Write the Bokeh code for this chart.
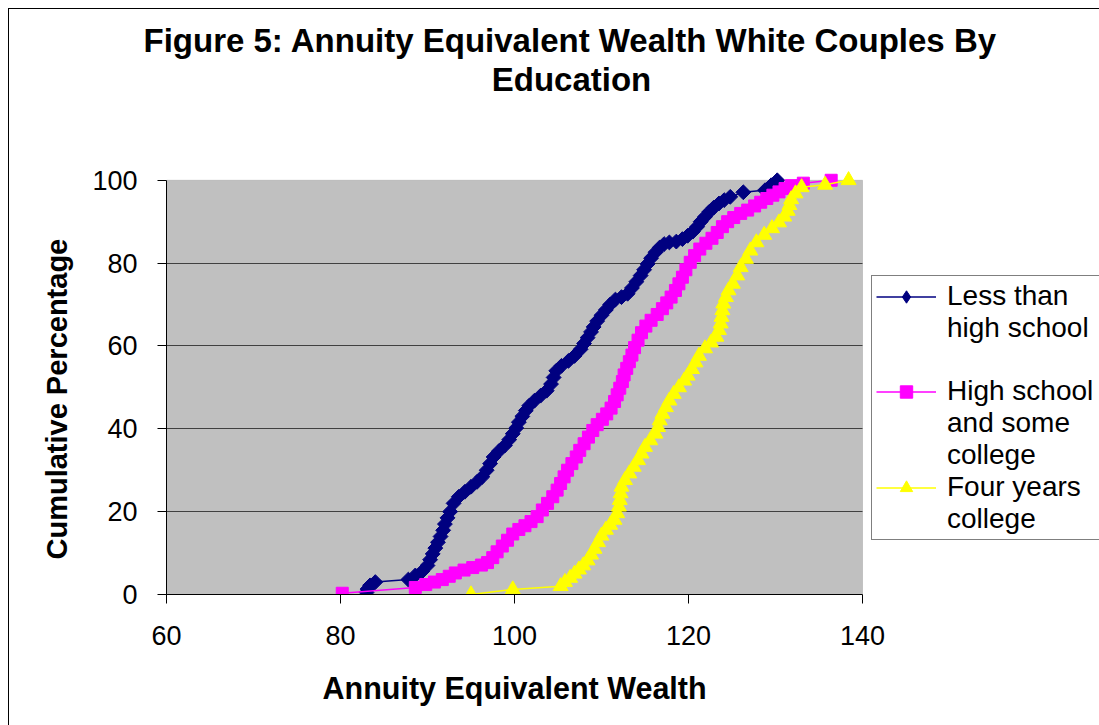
import numpy as np
from bokeh.plotting import figure
from bokeh.models import Range1d, FixedTicker, BoxAnnotation, Legend, LegendItem, Title, Label
from bokeh.core.properties import value
from bokeh.embed import file_html
from bokeh.resources import INLINE

FONT = "Liberation Sans"

title_lines = ["Figure 5: Annuity Equivalent Wealth White Couples By", "Education"]
x_title = "Annuity Equivalent Wealth"
y_title = "Cumulative Percentage"
x_ticks = [60, 80, 100, 120, 140]
y_ticks = [0, 20, 40, 60, 80, 100]

# Series 1: Less than high school
less_hs_wealth = [83.0, 83.1, 83.4, 84.0, 87.8, 88.6, 89.4, 90.0, 90.3, 90.6, 90.9, 91.2, 91.5, 91.8,
                  92.0, 92.3, 92.6, 93.0, 93.6, 94.3, 95.0, 95.7, 96.3, 96.8, 97.2, 97.6, 98.2, 98.9,
                  99.4, 99.8, 100.2, 100.5, 100.9, 101.3, 101.7, 102.3, 103.0, 103.7, 104.2, 104.5,
                  104.8, 105.4, 106.2, 106.9, 107.6, 108.0, 108.4, 108.8, 109.1, 109.5, 110.0, 110.5,
                  111.0, 111.6, 112.3, 113.0, 113.5, 114.0, 114.5, 114.9, 115.3, 115.7, 116.2, 116.7,
                  117.2, 117.8, 118.6, 119.3, 119.9, 120.5, 121.0, 121.4, 121.9, 122.4, 122.9, 123.5,
                  124.1, 124.8, 126.3, 128.8, 129.5, 130.2]
less_hs_pct = [0.5, 1.3, 2.2, 3.0, 3.6, 4.6, 5.6, 7.0, 8.4, 9.8, 11.2, 12.6, 14.0, 15.5,
               17.0, 18.5, 20.0, 22.0, 23.6, 24.8, 26.0, 27.2, 28.4, 30.0, 31.6, 33.2, 34.6, 36.0,
               37.4, 38.8, 40.2, 41.6, 43.0, 44.4, 45.6, 46.8, 48.0, 49.2, 50.8, 52.4,
               54.0, 55.2, 56.4, 57.6, 59.2, 60.6, 62.0, 63.4, 64.6, 66.0, 67.4, 68.7,
               70.0, 71.2, 71.8, 72.6, 74.0, 75.5, 77.0, 78.4, 79.8, 81.2, 82.6, 83.8,
               84.6, 85.0, 85.2, 85.8, 86.6, 87.6, 88.8, 90.0, 91.2, 92.4, 93.4, 94.4,
               95.2, 96.0, 97.1, 97.6, 98.8, 100.0]

# Series 2: High school and some college
hs_wealth = [80.2, 88.6, 89.8, 90.8, 91.7, 92.5, 93.2, 94.2, 95.2, 96.2, 96.9, 97.5, 98.0, 98.6,
             99.2, 99.8, 100.5, 101.2, 101.9, 102.6, 103.2, 103.8, 104.4, 104.9, 105.3, 105.7,
             106.1, 106.6, 107.1, 107.5, 108.0, 108.5, 109.0, 109.5, 110.1, 110.6, 111.1, 111.5,
             111.8, 112.1, 112.4, 112.6, 112.9, 113.2, 113.5, 113.8, 114.2, 114.6, 115.1, 115.7,
             116.4, 117.0, 117.5, 118.0, 118.5, 118.9, 119.3, 119.7, 120.2, 120.7, 121.3, 122.0,
             122.7, 123.3, 123.9, 124.5, 125.2, 126.0, 126.8, 127.6, 128.3, 129.0, 129.7, 130.4,
             131.1, 131.8, 133.2, 136.4]
hs_pct = [0.3, 1.7, 2.4, 3.0, 3.6, 4.4, 5.2, 5.9, 6.5, 7.1, 7.7, 8.9, 10.3, 11.7,
          13.1, 14.6, 15.7, 16.6, 17.6, 18.8, 20.4, 22.0, 23.6, 25.2, 26.8, 28.4,
          30.0, 31.6, 33.2, 34.8, 36.4, 38.0, 39.6, 41.0, 42.3, 43.6, 45.0, 46.6,
          48.2, 49.8, 51.4, 53.0, 54.6, 56.2, 57.8, 59.6, 61.4, 63.2, 64.8, 66.2,
          67.6, 69.0, 70.4, 71.8, 73.4, 75.0, 76.6, 78.4, 80.2, 81.8, 83.4, 84.8,
          86.0, 87.4, 88.8, 90.0, 91.0, 92.0, 92.8, 93.8, 94.7, 95.6, 96.4, 97.2,
          98.0, 98.7, 99.3, 100.0]

# Series 3: Four years college
col_wealth = [95.0, 99.8, 105.3, 105.8, 106.4, 106.9, 107.4, 107.9, 108.4, 108.8, 109.2, 109.6,
              110.0, 110.5, 111.0, 111.5, 111.8, 112.0, 112.1, 112.2, 112.3, 112.7, 113.2, 113.7,
              114.2, 114.6, 115.0, 115.6, 116.2, 116.5, 116.7, 117.0, 117.4, 117.8, 118.3, 118.9,
              119.5, 119.9, 120.4, 120.8, 121.2, 121.9, 122.6, 123.2, 123.5, 123.7, 123.8, 123.9,
              124.0, 124.3, 124.6, 125.1, 125.6, 126.0, 126.6, 127.1, 127.8, 128.7, 129.6, 130.4,
              131.0, 131.4, 131.6, 131.8, 132.3, 133.0, 135.7, 138.4]
col_pct = [0.0, 1.2, 2.0, 3.0, 4.0, 5.0, 6.0, 7.0, 8.2, 9.6, 11.0, 12.6,
           14.2, 15.6, 16.8, 18.0, 19.6, 21.2, 22.8, 24.4, 26.0, 27.6, 29.2, 30.8,
           32.4, 34.0, 35.6, 37.2, 38.8, 40.4, 42.0, 43.6, 45.2, 46.8, 48.4, 50.0,
           51.6, 52.8, 54.4, 56.0, 57.6, 59.4, 60.8, 62.2, 63.8, 65.4, 67.0, 68.6,
           70.2, 71.8, 73.4, 75.0, 77.0, 79.0, 81.0, 83.0, 85.0, 86.8, 88.4, 89.8,
           91.2, 92.6, 94.0, 95.4, 96.8, 98.3, 98.9, 100.0]

assert len(less_hs_wealth) == len(less_hs_pct)
assert len(hs_wealth) == len(hs_pct)
assert len(col_wealth) == len(col_pct)

# The frame spans from the y axis to the right edge and up to just below the first
# title line, so the second title line and the legend (drawn inside it) are not clipped.
PX_X = 8.7    # px per wealth unit
PX_Y = 4.15   # px per percentage point
FRAME_LEFT, FRAME_BOTTOM, FRAME_TOP = 166, 595, 62
W, H = 1099, 725
x_end = x_ticks[0] + (W - FRAME_LEFT) / PX_X
y_end = (FRAME_BOTTOM - FRAME_TOP) / PX_Y

p = figure(width=W, height=H, output_backend="svg", toolbar_location=None,
           x_range=Range1d(x_ticks[0], x_end), y_range=Range1d(0, y_end),
           min_border_left=FRAME_LEFT, min_border_right=0, min_border_top=FRAME_TOP,
           min_border_bottom=H - FRAME_BOTTOM)
p.background_fill_color = None
p.border_fill_color = None
p.outline_line_color = None
# outer chart border (left and top edges, like the clipped Excel chart area)
p.styles = {"box-shadow": "inset 8px 8px 0 0 #ffffff, inset 9px 9px 0 0 #000000"}

# Plot area (Excel style grey panel with grey border)
panel = BoxAnnotation(left=x_ticks[0], right=x_ticks[-1], bottom=y_ticks[0], top=y_ticks[-1],
                      fill_color="#C0C0C0", fill_alpha=1.0,
                      line_color="#808080", line_width=1, level="underlay")
p.center.insert(0, panel)

# horizontal grid lines inside the plot area only
p.xgrid.grid_line_color = None
grid = p.ygrid[0]
if "cross_bounds" in grid.properties():
    grid.ticker = FixedTicker(ticks=y_ticks[1:-1])
    grid.cross_bounds = (x_ticks[0], x_ticks[-1])
    grid.grid_line_color = "#404040"
    grid.grid_line_width = 1
else:
    grid.grid_line_color = None
    gy = y_ticks[1:-1]
    p.segment(x0=[x_ticks[0]] * len(gy), x1=[x_ticks[-1]] * len(gy), y0=gy, y1=gy,
              line_color="#404040", line_width=1)

# axes
for ax in (p.xaxis[0], p.yaxis[0]):
    ax.axis_line_color = "black"
    ax.major_tick_line_color = "black"
    ax.major_tick_in = 0
    ax.major_tick_out = 9
    ax.minor_tick_line_color = None
    ax.major_label_text_font = FONT
    ax.major_label_text_font_size = "27px"
    ax.major_label_text_color = "black"
p.xaxis[0].ticker = FixedTicker(ticks=x_ticks)
p.yaxis[0].ticker = FixedTicker(ticks=y_ticks)
p.xaxis[0].bounds = (x_ticks[0], x_ticks[-1])
p.yaxis[0].bounds = (y_ticks[0], y_ticks[-1])
p.xaxis[0].major_label_standoff = 22
p.yaxis[0].major_label_standoff = 20

# series
l1 = p.line(less_hs_wealth, less_hs_pct, line_color="#000080", line_width=1.5)
s1 = p.scatter(less_hs_wealth, less_hs_pct, marker="square", angle=np.pi / 4, size=10.5,
               fill_color="#000080", line_color="#000080")
l2 = p.line(hs_wealth, hs_pct, line_color="#FF00FF", line_width=1.5)
s2 = p.scatter(hs_wealth, hs_pct, marker="square", size=12, fill_color="#FF00FF", line_color="#FF00FF")
l3 = p.line(col_wealth, col_pct, line_color="#FFFF00", line_width=1.5)
s3 = p.scatter(col_wealth, col_pct, marker="triangle", size=15, fill_color="#FFFF00", line_color="#FFFF00")
# legend key for series 1 (diamond), hidden in the plot itself
key1 = p.scatter(less_hs_wealth, less_hs_pct, marker="diamond", size=14,
                 fill_color="#000080", line_color="#000080", visible=False)
blank = p.line(x=[], y=[], line_alpha=0)

items = [
    LegendItem(label=value("Less than"), renderers=[l1, key1]),
    LegendItem(label=value("high school"), renderers=[blank]),
    LegendItem(label=value(" "), renderers=[blank]),
    LegendItem(label=value("High school"), renderers=[l2, s2]),
    LegendItem(label=value("and some"), renderers=[blank]),
    LegendItem(label=value("college"), renderers=[blank]),
    LegendItem(label=value("Four years"), renderers=[l3, s3]),
    LegendItem(label=value("college"), renderers=[blank]),
]
legend = Legend(items=items, location=(871 - FRAME_LEFT, FRAME_BOTTOM - 541), orientation="vertical",
                border_line_color="black", border_line_width=1,
                background_fill_color="white", background_fill_alpha=1.0,
                inactive_fill_alpha=0.0, click_policy="none",
                padding=4, spacing=0, margin=0, glyph_width=60, glyph_height=31,
                label_height=31, label_width=165, label_standoff=11, label_text_font=FONT,
                label_text_font_size="28px", label_text_color="black")
p.add_layout(legend)

# chart title: first line above the frame, second line centred inside it
t_main = Title(text=title_lines[0], align="left", offset=143 - FRAME_LEFT, standoff=8,
               vertical_align="bottom", text_font=FONT, text_font_size="33px",
               text_font_style="bold", text_color="black")
p.add_layout(t_main, "above")
p.add_layout(Label(x=571 - FRAME_LEFT, y=FRAME_BOTTOM - 80, x_units="screen", y_units="screen",
                   text=title_lines[1], text_align="center", text_baseline="middle", text_font=FONT,
                   text_font_size="33px", text_font_style="bold", text_color="black"))

# axis titles
t_y = Title(text=y_title, align="left", offset=35, standoff=34, text_font=FONT,
            text_font_size="29px", text_font_style="bold", text_color="black")
p.add_layout(t_y, "left")
t_x = Title(text=x_title, align="left", offset=322 - FRAME_LEFT, standoff=42, text_font=FONT,
            text_font_size="30.5px", text_font_style="bold", text_color="black")
p.add_layout(t_x, "below")

open("out.html", "w").write(file_html(p, INLINE))
